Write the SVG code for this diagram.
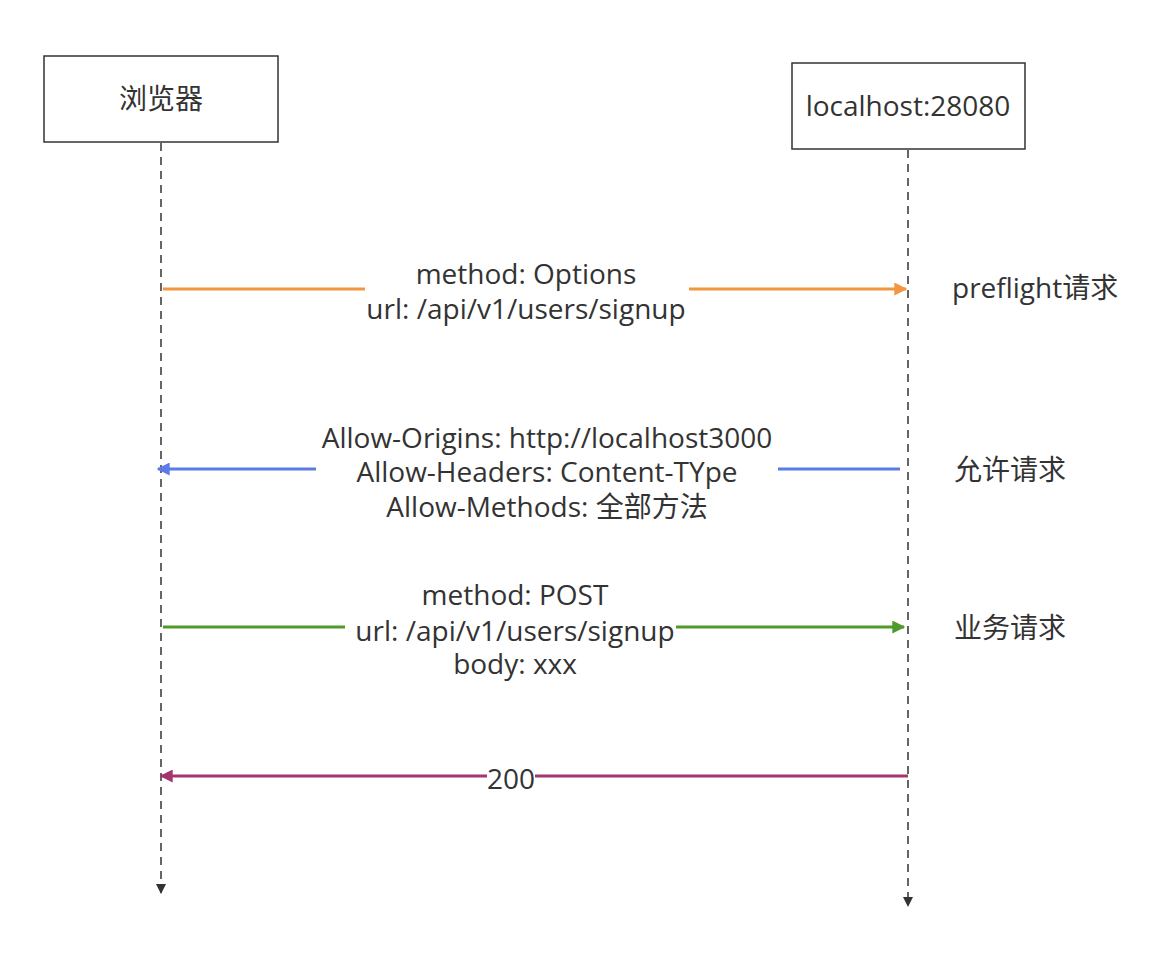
<svg xmlns="http://www.w3.org/2000/svg" width="1150" height="956" viewBox="0 0 1150 956">
<style>
text{font-family:"Open Sans","Noto Sans","Noto Sans CJK SC",sans-serif;font-size:28px;fill:#333;}
.c{text-anchor:middle;}
.box{fill:#fff;stroke:#333;stroke-width:1.5;}
.life{stroke:#333;stroke-width:1.5;stroke-dasharray:8,6;fill:none;}
.m{stroke-width:3;fill:none;}
</style>
<defs>
<marker id="ad" viewBox="0 0 10 10" refX="9" refY="5" markerWidth="16" markerHeight="10" markerUnits="userSpaceOnUse" orient="auto"><path d="M0,0 L10,5 L0,10 z" fill="#333"/></marker>
<marker id="ao" viewBox="0 0 10 10" refX="9" refY="5" markerWidth="20" markerHeight="13" markerUnits="userSpaceOnUse" orient="auto"><path d="M0,0 L10,5 L0,10 z" fill="#F0973F"/></marker>
<marker id="ab" viewBox="0 0 10 10" refX="9" refY="5" markerWidth="20" markerHeight="13" markerUnits="userSpaceOnUse" orient="auto"><path d="M0,0 L10,5 L0,10 z" fill="#5B7BE8"/></marker>
<marker id="ag" viewBox="0 0 10 10" refX="9" refY="5" markerWidth="20" markerHeight="13" markerUnits="userSpaceOnUse" orient="auto"><path d="M0,0 L10,5 L0,10 z" fill="#4E9A2A"/></marker>
<marker id="ap" viewBox="0 0 10 10" refX="9" refY="5" markerWidth="20" markerHeight="13" markerUnits="userSpaceOnUse" orient="auto"><path d="M0,0 L10,5 L0,10 z" fill="#A3366F"/></marker>
</defs>
<g id="browser">
<rect class="box" x="44" y="56" width="234" height="86"/>
<text class="c" x="161" y="109">浏览器</text>
</g>
<g id="server">
<rect class="box" x="792" y="63" width="233" height="86"/>
<text class="c" x="908" y="116">localhost:28080</text>
</g>
<g id="connectors">
<path class="life" d="M161,143 V893" marker-end="url(#ad)"/>
<path class="life" d="M908,150 V906" marker-end="url(#ad)"/>
<path class="m" stroke="#F0973F" d="M163,289 H365 M689,289 H906" marker-end="url(#ao)"/>
<path class="m" stroke="#5B7BE8" d="M900,469 H778 M316,469 H158" marker-end="url(#ab)"/>
<path class="m" stroke="#4E9A2A" d="M163,627 H904" marker-end="url(#ag)"/>
<path class="m" stroke="#A3366F" d="M908,776 H161" marker-end="url(#ap)"/>
</g>
<g id="label-options">
<text class="c" x="526" y="284">method: Options</text>
<text class="c" x="526" y="319">url: /api/v1/users/signup</text>
</g>
<g id="label-allow">
<text class="c" x="547" y="448">Allow-Origins: http://localhost3000</text>
<text class="c" x="547" y="482">Allow-Headers: Content-TYpe</text>
<text class="c" x="547" y="517">Allow-Methods: 全部方法</text>
</g>
<g id="label-post">
<rect x="345" y="614" width="331" height="28" fill="#fff"/>
<text class="c" x="515" y="605">method: POST</text>
<text class="c" x="515" y="641">url: /api/v1/users/signup</text>
<text class="c" x="515" y="674">body: xxx</text>
</g>
<g id="label-200">
<rect x="487" y="762" width="48" height="28" fill="#fff"/>
<text class="c" x="511" y="789">200</text>
</g>
<g id="notes">
<text x="952" y="298">preflight请求</text>
<text x="954" y="480">允许请求</text>
<text x="954" y="638">业务请求</text>
</g>
</svg>
